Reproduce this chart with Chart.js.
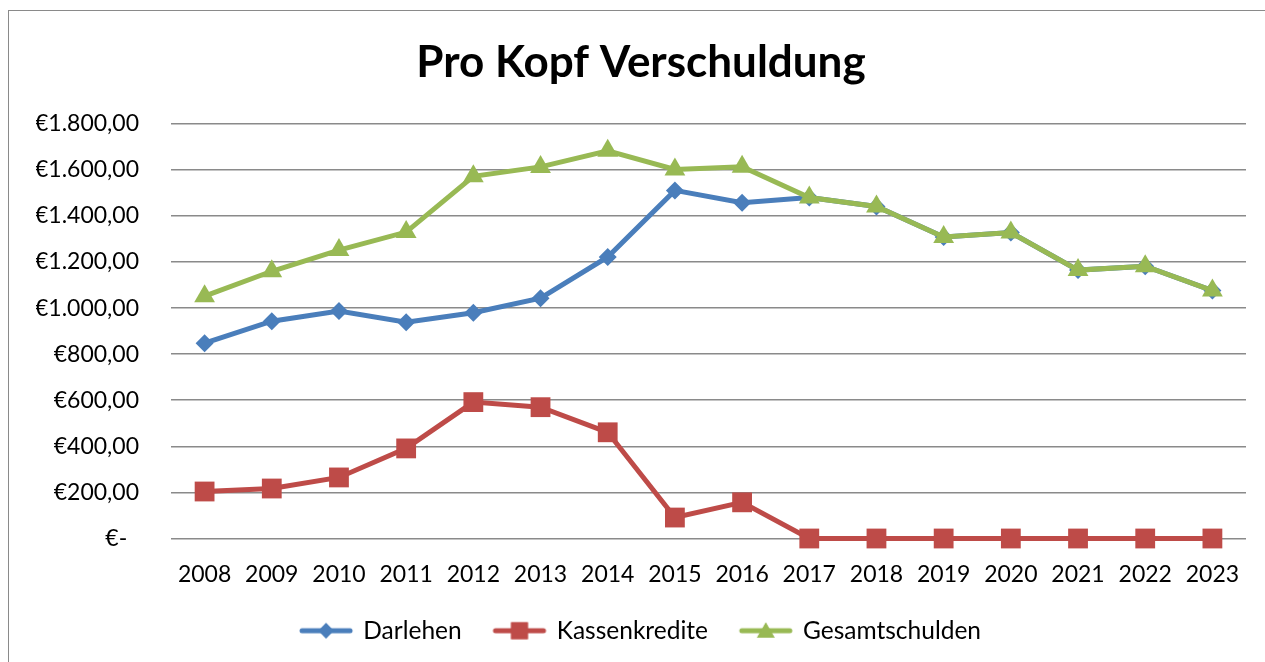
<!DOCTYPE html>
<html>
<head>
<meta charset="utf-8">
<script src="https://cdn.jsdelivr.net/npm/chart.js@4/dist/chart.umd.min.js"></script>
<style>
  html, body { margin: 0; padding: 0; background: #ffffff; overflow: hidden; }
  #frame { position: absolute; left: 8px; top: 10px; width: 1300px; height: 700px; border: 1.5px solid #8a8a8a; }
  #wrap { position: absolute; left: 0; top: 0; width: 1265px; height: 662px; }
</style>
</head>
<body>
<div id="frame"></div>
<div id="wrap"><canvas id="c" width="1265" height="662"></canvas></div>
<script>
const categories = ['2008','2009','2010','2011','2012','2013','2014','2015','2016','2017','2018','2019','2020','2021','2022','2023'];
const darlehen = [848, 943, 987, 939, 980, 1043, 1222, 1511, 1457, 1480, 1441, 1309, 1328, 1165, 1182, 1076];
const kassenkredite = [204, 217, 265, 391, 592, 570, 461, 91, 157, 0, 0, 0, 0, 0, 0, 0];
const gesamtschulden = [1052, 1160, 1252, 1330, 1572, 1613, 1683, 1602, 1614, 1480, 1441, 1309, 1328, 1165, 1182, 1076];
const seriesNames = ['Darlehen', 'Kassenkredite', 'Gesamtschulden'];
const yTicks = [0, 200, 400, 600, 800, 1000, 1200, 1400, 1600, 1800];

const FONT = 'Lato, "Open Sans", sans-serif';
const colors = ['#4a7ebb', '#be4b48', '#98b954'];
const styles = ['rectRot', 'rect', 'triangle'];
const radii = [9, 14, 12];

function fmtEuro(v) {
  if (v === 0) return '€-  ';
  const s = Math.round(v).toString().replace(/\B(?=(\d{3})+(?!\d))/g, '.');
  return '€' + s + ',00';
}

function legendImage(i) {
  const c = document.createElement('canvas');
  c.width = 56; c.height = 26;
  const ctx = c.getContext('2d');
  ctx.strokeStyle = colors[i];
  ctx.lineWidth = 5;
  ctx.lineCap = 'round';
  ctx.beginPath(); ctx.moveTo(4, 13); ctx.lineTo(52, 13); ctx.stroke();
  ctx.fillStyle = colors[i];
  ctx.beginPath();
  Chart.helpers.drawPoint(ctx, { pointStyle: styles[i], radius: radii[i] * 0.85, rotation: 0, borderWidth: 0 }, 28, i === 2 ? 15 : 13);
  ctx.fill();
  return c;
}

const values = [darlehen, kassenkredite, gesamtschulden];
const datasets = values.map((d, i) => ({
  label: seriesNames[i],
  data: d,
  borderColor: colors[i],
  backgroundColor: colors[i],
  borderWidth: 5,
  pointStyle: styles[i],
  pointRadius: radii[i],
  pointHoverRadius: radii[i],
  pointBorderWidth: 0,
  pointBackgroundColor: colors[i],
  tension: 0,
  clip: false,
  order: 3 - i
}));

new Chart(document.getElementById('c'), {
  type: 'line',
  data: { labels: categories, datasets: datasets },
  options: {
    responsive: false,
    animation: false,
    devicePixelRatio: 1,
    layout: { padding: { left: 36, right: 19, top: 0, bottom: 9 } },
    plugins: {
      tooltip: { enabled: false },
      title: {
        display: true,
        text: 'Pro Kopf Verschuldung',
        color: '#000000',
        font: { family: FONT, size: 44, weight: 'bold', lineHeight: 1.2 },
        padding: { top: 36, bottom: 35 }
      },
      legend: {
        position: 'bottom',
        labels: {
          usePointStyle: true,
          pointStyleWidth: 50,
          padding: 14,
          color: '#000000',
          font: { family: FONT, size: 24.5 },
          generateLabels: (chart) => seriesNames.map((n, i) => ({
            text: i < seriesNames.length - 1 ? n + '   ' : n,
            fillStyle: colors[i],
            strokeStyle: colors[i],
            lineWidth: 0,
            pointStyle: legendImage(i),
            datasetIndex: i,
            hidden: false
          }))
        }
      }
    },
    scales: {
      x: {
        offset: true,
        grid: { display: false, drawTicks: false },
        border: { display: false },
        ticks: { color: '#000000', padding: 22, maxRotation: 0, autoSkip: false, font: { family: FONT, size: 23 } },
        afterFit: (s) => { s.height = 66; }
      },
      y: {
        min: 0,
        max: 1800,
        afterBuildTicks: (s) => { s.ticks = yTicks.map(v => ({ value: v })); },
        grid: { color: '#8a8a8a', lineWidth: 1.6, drawTicks: false },
        border: { display: false },
        ticks: { color: '#000000', padding: 32, font: { family: FONT, size: 23 }, callback: (v) => fmtEuro(v) },
        afterFit: (s) => { s.width = 135; }
      }
    }
  }
});
</script>
</body>
</html>
